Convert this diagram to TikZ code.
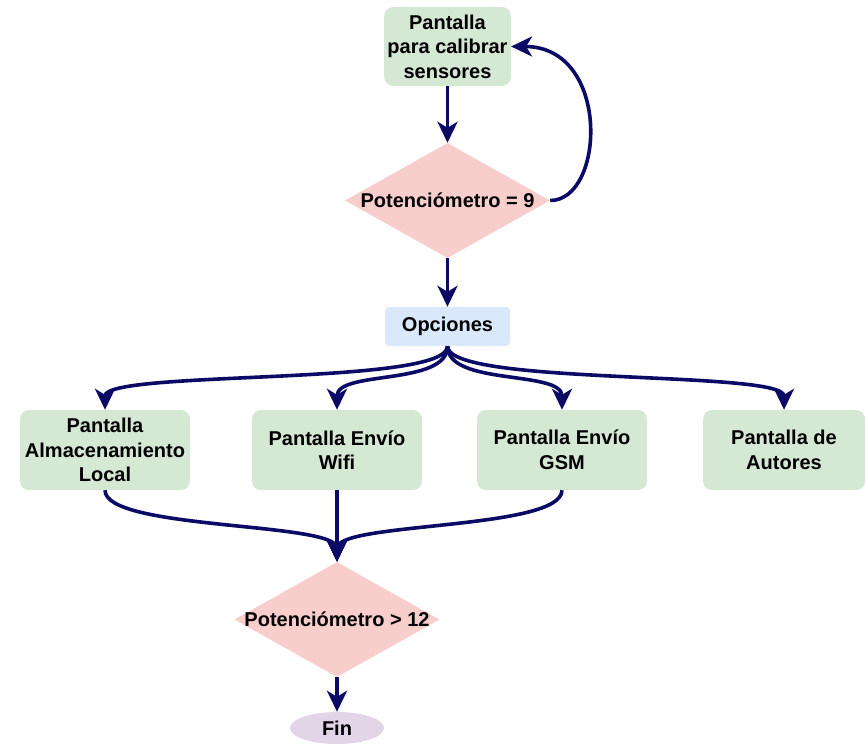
\documentclass[tikz,border=0pt]{standalone}
\usepackage{fontspec}
\setmainfont{Liberation Sans}
\usepackage{tikz}
\usetikzlibrary{arrows.meta,shapes.geometric,positioning}

\definecolor{verdeP}{HTML}{D5E8D4}
\definecolor{rojoD}{HTML}{F8CECC}
\definecolor{azulO}{HTML}{DAE8FC}
\definecolor{lilaF}{HTML}{E1D5E7}
\definecolor{azulF}{HTML}{0B0B66}

\begin{document}
\begin{tikzpicture}[x=1pt,y=-1pt,font=\fontsize{20}{24.5}\selectfont\bfseries]
			\tikzstyle{pantalla} = [fill=verdeP, rounded corners=9pt, align=center,
				minimum width=170pt, minimum height=80pt]
			\tikzstyle{opcion} = [fill=azulO, rounded corners=4pt,
				minimum width=125pt, minimum height=39pt]
			\tikzstyle{decision} = [diamond, fill=rojoD, inner sep=0pt,
				minimum width=205pt, minimum height=115pt]
			\tikzstyle{fin} = [ellipse, fill=lilaF, inner sep=0pt,
				minimum width=94pt, minimum height=32pt]
			\tikzstyle{line} = [draw=azulF,-{Stealth[length=21pt,width=20pt,inset=6pt]},line width=3.6pt]
			\tikzstyle{lineR} = [draw=azulF,{Stealth[length=21pt,width=20pt,inset=6pt]}-,line width=3.6pt]

			\useasboundingbox (0,0) rectangle (866,744);

			\node(PantallaCalibrar)[pantalla, minimum width=125pt, minimum height=79pt] at (447.5,46.5)
				{Pantalla\\para calibrar\\sensores};
			\tikzset{node distance = 154pt}
			\node(Potenciometro9)[decision, below of = PantallaCalibrar, label=center:{Potenci\'ometro = 9}]{}
				edge[lineR] (PantallaCalibrar);
			\tikzset{node distance = 126pt}
			\node(Opciones)[opcion, below of = Potenciometro9]{Opciones} edge[lineR] (Potenciometro9);

			% pantallas del menu
			\node(PantallaLocal)[pantalla] at (105,450) {Pantalla\\Almacenamiento\\Local};
			\node(PantallaWifi)[pantalla] at (337,450) {Pantalla Env\'io\\Wifi};
			\node(PantallaGSM)[pantalla] at (562,450) {Pantalla Env\'io\\GSM};
			\node(PantallaAutores)[pantalla, minimum width=162pt] at (784,450) {Pantalla de\\Autores};

			\node(Potenciometro12)[decision, label=center:{Potenci\'ometro > 12}] at (337,619.5){};
			\tikzset{node distance = 108.5pt}
			\node(Fin)[fin, below of = Potenciometro12]{Fin} edge[lineR] (Potenciometro12);

			% vuelta a calibrar
			\draw[line] (Potenciometro9.east) .. controls +(55,0) and +(100,0) .. (PantallaCalibrar.east);

			\foreach \p in {PantallaLocal,PantallaWifi,PantallaGSM,PantallaAutores}
				\draw[line] (Opciones.south) .. controls +(0,40) and +(0,-40) .. (\p.north);

			\draw[line] (PantallaLocal.south) .. controls +(0,40) and +(0,-40) .. (Potenciometro12.north);
			\draw[line] (PantallaWifi.south) -- (Potenciometro12.north);
			\draw[line] (PantallaGSM.south) .. controls +(0,40) and +(0,-40) .. (Potenciometro12.north);

		\end{tikzpicture}
\end{document}
